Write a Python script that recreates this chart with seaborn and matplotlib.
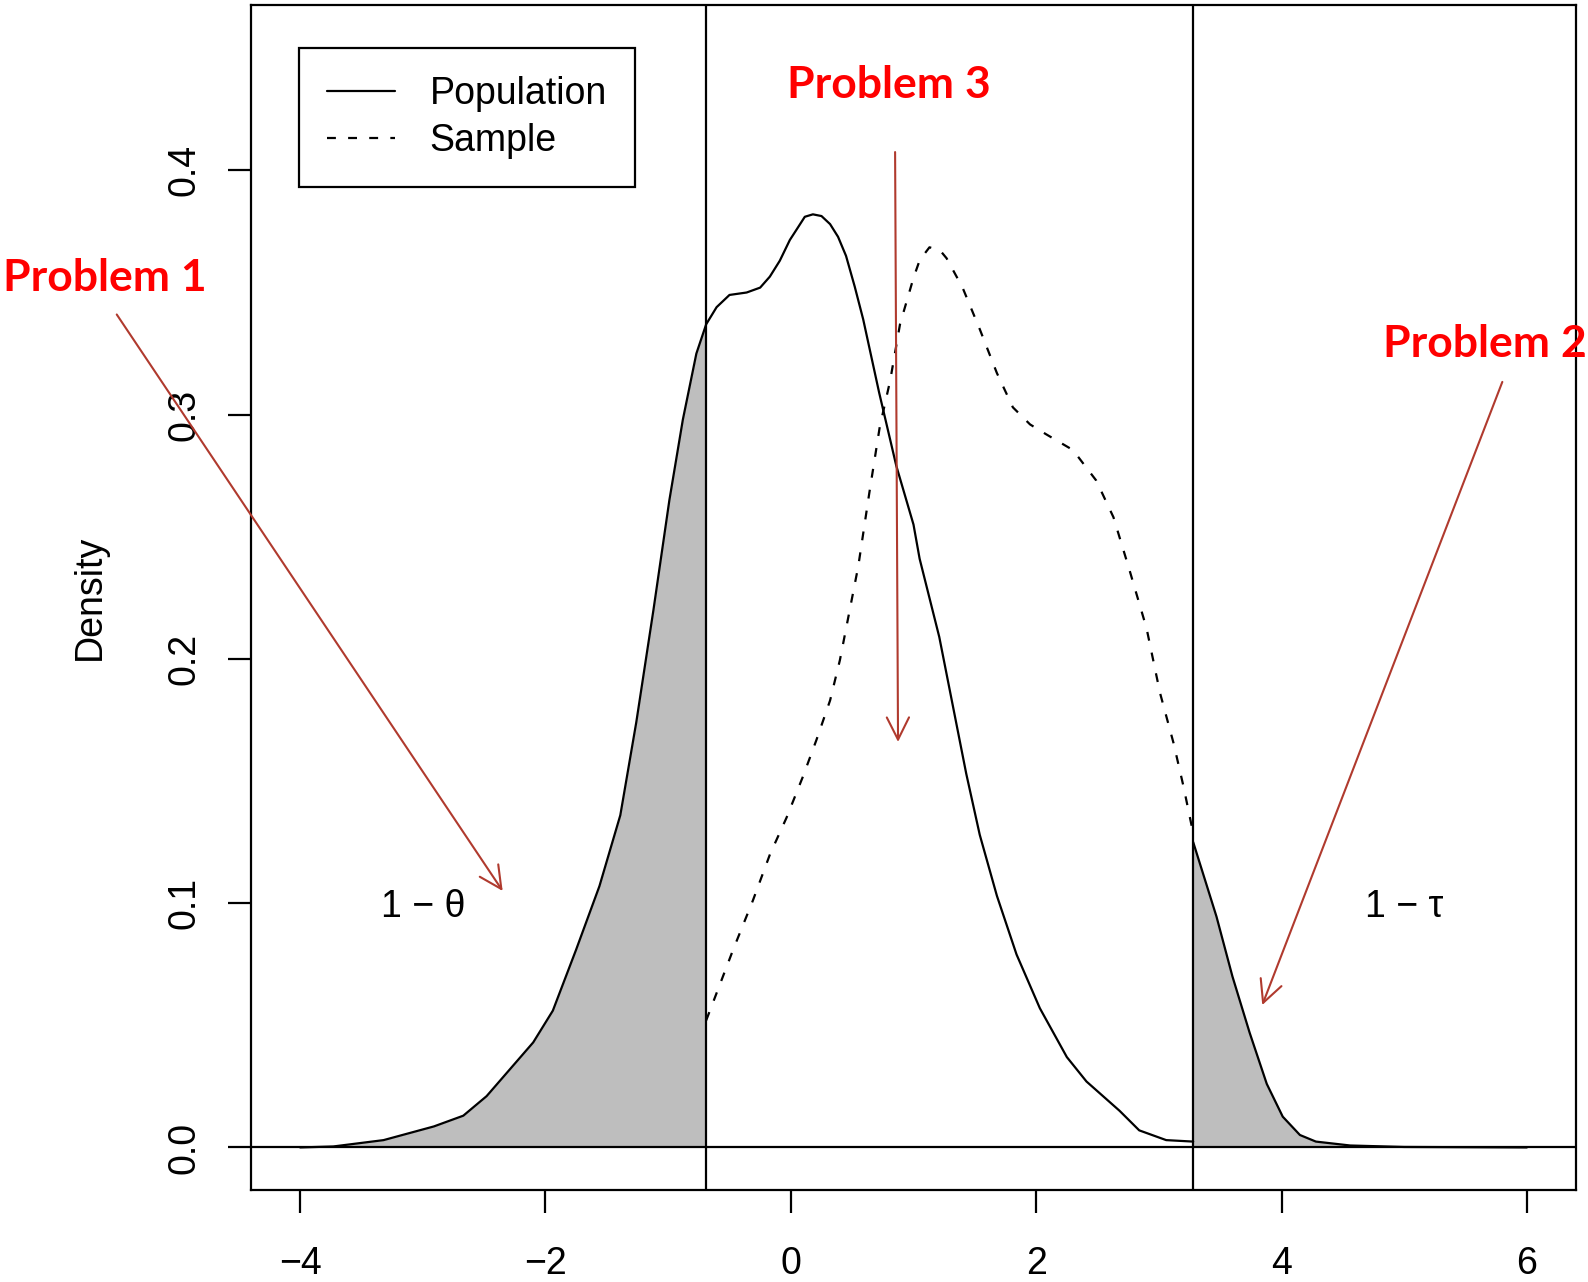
import numpy as np
import matplotlib
matplotlib.use('Agg')
import matplotlib.pyplot as plt
import seaborn as sns
from matplotlib.lines import Line2D

# Density curves
pop_x = [-4.0, -3.73, -3.32, -2.91, -2.67, -2.48, -2.10, -1.94, -1.75, -1.56, -1.39, -1.26,
         -1.12, -0.99, -0.88, -0.77, -0.69, -0.605, -0.50, -0.36, -0.25, -0.171, -0.09, -0.008,
         0.05, 0.114, 0.18, 0.25, 0.32, 0.385, 0.45, 0.521, 0.59, 0.72, 0.86, 1.0, 1.05, 1.21,
         1.32, 1.43, 1.54, 1.68, 1.84, 2.03, 2.25, 2.41, 2.68, 2.84, 3.06, 3.28]
pop_y = [0.0, 0.0004, 0.003, 0.0086, 0.013, 0.021, 0.043, 0.056, 0.081, 0.107, 0.136, 0.174,
         0.220, 0.265, 0.298, 0.325, 0.337, 0.344, 0.349, 0.350, 0.352, 0.3565, 0.363, 0.3715,
         0.376, 0.381, 0.382, 0.3813, 0.378, 0.3728, 0.365, 0.3524, 0.339, 0.309, 0.279, 0.255,
         0.241, 0.209, 0.181, 0.153, 0.128, 0.103, 0.079, 0.057, 0.037, 0.027, 0.015, 0.007,
         0.003, 0.0024]

tail_x = [3.28, 3.47, 3.60, 3.74, 3.88, 4.01, 4.15, 4.28, 4.56, 5.0, 6.0]
tail_y = [0.125, 0.0945, 0.070, 0.047, 0.026, 0.0126, 0.0051, 0.0024, 0.0008, 0.0002, 0.0]

samp_x = [-0.69, -0.47, -0.31, -0.17, -0.035, 0.10, 0.21, 0.32, 0.40, 0.48, 0.55, 0.64, 0.725,
          0.81, 0.89, 1.0, 1.051, 1.13, 1.214, 1.27, 1.40, 1.54, 1.68, 1.81, 1.95, 2.08, 2.30,
          2.49, 2.63, 2.76, 2.90, 3.01, 3.12, 3.20, 3.28]
samp_y = [0.052, 0.081, 0.101, 0.120, 0.135, 0.152, 0.167, 0.183, 0.1995, 0.220, 0.238, 0.268,
          0.295, 0.314, 0.337, 0.356, 0.3633, 0.3685, 0.3674, 0.364, 0.352, 0.335, 0.317, 0.303,
          0.296, 0.292, 0.2855, 0.273, 0.258, 0.2365, 0.2125, 0.186, 0.1655, 0.148, 0.1286]

theta_cut = -0.69
tau_cut = 3.28

x_ticks = [-4, -2, 0, 2, 4, 6]
y_ticks = [0.0, 0.1, 0.2, 0.3, 0.4]

sns.set_style('white')
plt.rcParams['font.family'] = ['Liberation Sans', 'DejaVu Sans']
plt.rcParams.update({'font.size': 27, 'text.color': 'black', 'axes.labelcolor': 'black',
                     'xtick.color': 'black', 'ytick.color': 'black'})

fig = plt.figure(figsize=(15.88, 12.82), dpi=100)
ax = fig.add_axes([0.1581, 0.0718, 0.8343, 0.9243])

lw = 1.6
pop_x = np.array(pop_x)
pop_y = np.array(pop_y)
tail_x = np.array(tail_x)
tail_y = np.array(tail_y)

# shaded tails
left = pop_x <= theta_cut
ax.fill_between(pop_x[left], 0, pop_y[left], color='#BEBEBE', lw=0)
ax.fill_between(tail_x, 0, tail_y, color='#BEBEBE', lw=0)

sns.lineplot(x=pop_x, y=pop_y, color='black', lw=lw, ax=ax)
sns.lineplot(x=tail_x, y=tail_y, color='black', lw=lw, ax=ax)
sns.lineplot(x=samp_x, y=samp_y, color='black', lw=lw, ax=ax, linestyle=(0, (4, 5.5)))

ax.axhline(0, color='black', lw=lw)
ax.axvline(theta_cut, color='black', lw=lw)
ax.axvline(tau_cut, color='black', lw=lw)

ax.set_xlim(-4.4, 6.4)
ax.set_ylim(-0.0174, 0.4677)
ax.set_xticks(x_ticks)
ax.set_yticks(y_ticks)
ax.set_yticklabels([f'{v:.1f}' for v in y_ticks], rotation=90, va='center')
ax.tick_params(axis='both', direction='out', length=16.5, width=lw, color='black',
               labelsize=27, bottom=True, left=True)
ax.tick_params(axis='x', pad=24)
ax.tick_params(axis='y', pad=18.5)
for s in ax.spines.values():
    s.set_color('black')
    s.set_linewidth(lw)

ax.set_xlabel('')
ax.set_ylabel('Density', fontsize=27)
ax.yaxis.set_label_coords(-0.108, 0.5)

# legend
handles = [Line2D([], [], color='black', lw=lw),
           Line2D([], [], color='black', lw=lw, linestyle=(0, (4, 5.5)))]
leg = ax.legend(handles, ['Population', 'Sample'], loc='upper left',
                bbox_to_anchor=(0.0362, 0.964), borderaxespad=0, fontsize=27,
                fancybox=False, framealpha=1, edgecolor='black', handlelength=1.8,
                handletextpad=0.93, borderpad=0.75, labelspacing=0.3)
leg.get_frame().set_linewidth(lw)

# labels for the tail areas
ax.text(-3.0, 0.0943, '1 \u2212 \u03b8', ha='center', va='baseline', fontsize=27)
ax.text(5.0, 0.0943, '1 \u2212 \u03c4', ha='center', va='baseline', fontsize=27)

# problem annotations
arrow_col = '#B03A2E'
arrows = [((-5.495, 0.341), (-2.349, 0.105)),
          ((5.80, 0.3134), (3.843, 0.0583)),
          ((0.850, 0.4075), (0.874, 0.166))]
for start, end in arrows:
    ax.annotate('', xy=end, xytext=start, annotation_clip=False,
                arrowprops=dict(arrowstyle='->,head_length=0.8,head_width=0.4',
                                color=arrow_col, lw=1.5, mutation_scale=20,
                                shrinkA=0, shrinkB=0))

prob_font = dict(family=['Lato', 'DejaVu Sans'], weight='bold', color='#FF0000',
                 fontsize=32, ha='center', va='baseline', clip_on=False)
ax.text(-5.589, 0.3507, 'Problem 1', **prob_font)
ax.text(5.66, 0.3237, 'Problem 2', **prob_font)
ax.text(0.80, 0.4298, 'Problem 3', **prob_font)

fig.savefig('out.png', dpi=100)
